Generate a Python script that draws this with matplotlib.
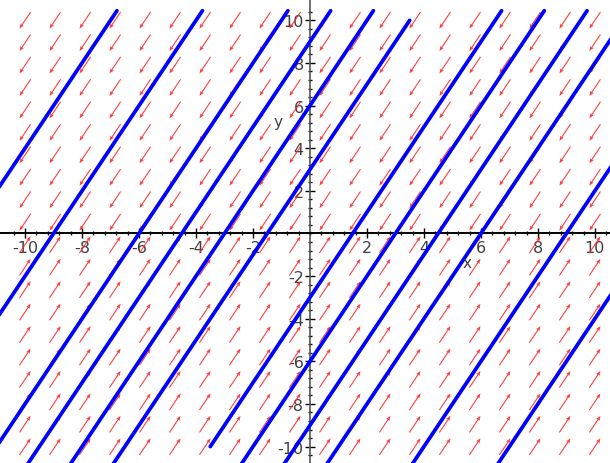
import numpy as np
import matplotlib
matplotlib.use("Agg")
from matplotlib import pyplot as plt

# solution lines y = 2x + c, with where each one starts and stops (in y)
intercepts = [24, 18, 12, 9, 6, 3, -3, -6, -9, -12, -18, -24]
y_tops = [10.45, 10.45, 10.45, 10.45, 10.45, 10.0, 10.45, 10.45, 10.45, 10.45, 10.45, 10.45]
y_bottoms = [-10.8, -10.8, -10.8, -10.8, -10.8, -10.8, -10.0, -10.8, -10.8, -10.8, -10.8, -10.8]
slope = 2.0

# direction field: x' = -y, y' = -2y, on a 20x20 grid
n_grid = 20
grid_min, grid_max = -10, 10

major_ticks = [-10, -8, -6, -4, -2, 2, 4, 6, 8, 10]

xlim = (-10.88, 10.53)
ylim = (-10.77, 11.0)

W, H = 610, 464
fig = plt.figure(figsize=(W / 100, H / 100), dpi=100)
ax = fig.add_axes([0, 0, 1, 1])
ax.set_xlim(*xlim)
ax.set_ylim(*ylim)

# pixels per data unit, for arrows of constant screen length
kx = W / (xlim[1] - xlim[0])
ky = H / (ylim[1] - ylim[0])

g = np.linspace(grid_min, grid_max, n_grid)
X, Y = np.meshgrid(g, g)
U = -Y
V = -2 * Y
plen = np.hypot(U * kx, V * ky)
arrow_px = 20
U = U / plen * arrow_px
V = V / plen * arrow_px
ax.quiver(X, Y, U, V, color="#ff2a2a", alpha=0.9,
          angles="xy", scale_units="xy", scale=1, pivot="middle",
          width=0.0018, headwidth=3.5, headlength=4.5, headaxislength=4, zorder=2)

for c, yt, yb in zip(intercepts, y_tops, y_bottoms):
    ys = np.array([yb, yt])
    xs = (ys - c) / slope
    ax.plot(xs, ys, color="#0000ff", lw=2.7, solid_capstyle="round", zorder=3)

# Maple-style axes through the origin
for s in ["top", "right"]:
    ax.spines[s].set_visible(False)
ax.spines["left"].set_position(("data", 0))
ax.spines["bottom"].set_position(("data", 0))
ax.spines["left"].set_color("#555555")
ax.spines["bottom"].set_color("black")
ax.spines["left"].set_linewidth(1.2)
ax.spines["bottom"].set_linewidth(1.4)
ax.set_zorder(1)

ax.set_xticks(major_ticks)
ax.set_yticks(major_ticks)
ax.set_xticks(np.arange(-10.4, 10.5, 0.4), minor=True)
ax.set_yticks(np.arange(-10.4, 10.5, 0.4), minor=True)
ax.tick_params(which="major", direction="inout", length=7, width=1,
               labelsize=11.5, labelcolor="#404040", color="black", pad=1)
ax.tick_params(which="minor", direction="inout", length=3, width=1, color="black")
ax.set_xticklabels([str(t) for t in major_ticks])
ax.set_yticklabels([str(t) for t in major_ticks])

ax.text(5.5, -1.34, "x", fontsize=11, color="#404040", ha="center", va="center")
ax.text(-1.12, 5.23, "y", fontsize=11, color="#404040", ha="center", va="center")

fig.savefig("out.png", dpi=100)
